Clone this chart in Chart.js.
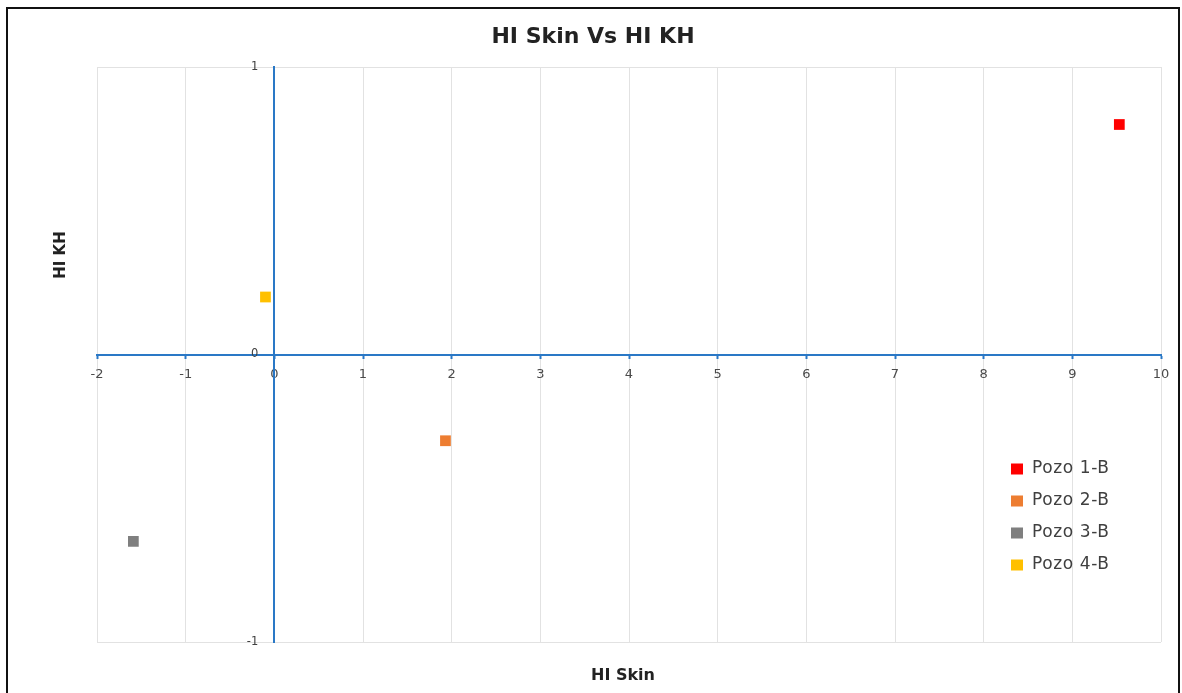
<!DOCTYPE html>
<html>
<head>
<meta charset="utf-8">
<title>HI Skin Vs HI KH</title>
<script src="https://cdn.jsdelivr.net/npm/chart.js@4.4.1/dist/chart.umd.min.js"></script>
<style>
  html, body { margin: 0; padding: 0; background: #fff; overflow: hidden; }
  #wrap { position: relative; width: 1182px; height: 693px; }
  #frame {
    position: absolute; left: 6px; top: 7px; width: 1174px; height: 720px;
    box-sizing: border-box; border: 2px solid #111; pointer-events: none;
  }
</style>
</head>
<body>
<div id="wrap">
  <canvas id="scatter_chart"></canvas>
  <div id="frame"></div>
</div>
<script>
// values
const seriesNames = ['Pozo 1-B', 'Pozo 2-B', 'Pozo 3-B', 'Pozo 4-B'];
const hiSkin = [9.53, 1.93, -1.59, -0.10];
const hiKH = [0.80, -0.30, -0.65, 0.20];
const seriesColors = ['#ff0000', '#ed7d31', '#7f7f7f', '#ffc000'];

const chartTitle = 'HI Skin Vs HI KH';
const xTitle = 'HI Skin';
const yTitle = 'HI KH';
const xRange = [-2, 10];
const yRange = [-1, 1];

const axisBlue = '#2a78c6';
const gridGray = '#e2e2e2';

let datasets = [];
for (let i = 0; i < seriesNames.length; i++) {
    datasets.push({
        label: seriesNames[i],
        data: [{ x: hiSkin[i], y: hiKH[i] }],
        backgroundColor: seriesColors[i],
        borderColor: seriesColors[i],
        pointStyle: 'rect',
        pointRadius: 7.6,
        pointHoverRadius: 7.6,
        pointBorderWidth: 0
    });
}

// titles, y tick labels and legend, drawn at fixed spots like the excel chart
const extrasPlugin = {
    id: 'extras',
    afterDraw(chart) {
        const ctx = chart.ctx;
        const yScale = chart.scales.y;
        const xScale = chart.scales.x;

        ctx.save();
        ctx.fillStyle = '#222';
        ctx.textAlign = 'center';
        ctx.textBaseline = 'middle';
        ctx.font = 'bold 22px "DejaVu Sans"';
        ctx.fillText(chartTitle, 593, 37);

        ctx.font = 'bold 16px "DejaVu Sans"';
        ctx.fillText(xTitle, 623, 676);

        ctx.translate(61, 255);
        ctx.rotate(-Math.PI / 2);
        ctx.font = 'bold 15px "DejaVu Sans"';
        ctx.fillText(yTitle, 0, 0);
        ctx.restore();

        // y tick labels sit a bit left of the crossing axis
        ctx.save();
        ctx.font = '11.5px "DejaVu Sans"';
        ctx.fillStyle = '#404040';
        ctx.textAlign = 'right';
        ctx.textBaseline = 'middle';
        const axisX = xScale.getPixelForValue(0);
        yScale.ticks.forEach(t => {
            ctx.fillText(String(t.value), axisX - 16, yScale.getPixelForValue(t.value));
        });
        ctx.restore();

        // legend
        ctx.save();
        ctx.font = '17px "DejaVu Sans"';
        ctx.letterSpacing = '0.6px';
        ctx.textAlign = 'left';
        ctx.textBaseline = 'middle';
        chart.data.datasets.forEach((ds, i) => {
            const y = 469 + i * 32;
            ctx.fillStyle = ds.backgroundColor;
            ctx.fillRect(1011, y - 5.5, 12, 11);
            ctx.fillStyle = '#404040';
            ctx.fillText(ds.label, 1032, y);
        });
        ctx.restore();
    }
};

document.addEventListener('DOMContentLoaded', function() {
    const ctx = document.getElementById('scatter_chart');

    window.scatterChart = new Chart(ctx, {
        type: 'scatter',
        data: { datasets: datasets },
        options: {
            responsive: true,
            maintainAspectRatio: false,
            animation: false,
            layout: {
                padding: { left: 97, right: 21, top: 67, bottom: 51 }
            },
            plugins: {
                legend: { display: false },
                tooltip: { enabled: false },
                title: { display: false }
            },
            scales: {
                x: {
                    type: 'linear',
                    min: xRange[0],
                    max: xRange[1],
                    position: { y: 0 },
                    ticks: {
                        stepSize: 1,
                        color: '#4a4a4a',
                        padding: 9,
                        font: { family: 'DejaVu Sans', size: 13 }
                    },
                    grid: {
                        color: gridGray,
                        lineWidth: 1,
                        tickColor: axisBlue,
                        tickLength: 3,
                        tickWidth: 2
                    },
                    border: { color: axisBlue, width: 2 }
                },
                y: {
                    type: 'linear',
                    min: yRange[0],
                    max: yRange[1],
                    position: { x: 0 },
                    ticks: {
                        stepSize: 1,
                        display: false
                    },
                    grid: {
                        color: gridGray,
                        lineWidth: 1,
                        tickLength: 0
                    },
                    border: { color: axisBlue, width: 2 }
                }
            }
        },
        plugins: [extrasPlugin]
    });
});
</script>
</body>
</html>
